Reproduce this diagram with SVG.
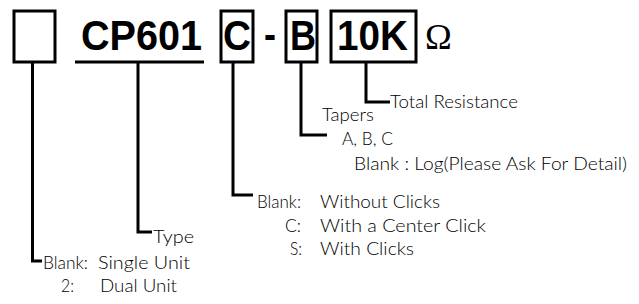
<svg xmlns="http://www.w3.org/2000/svg" width="639" height="304" viewBox="0 0 639 304">
<style>
.box{fill:none;stroke:#000;stroke-width:3}
.ln{fill:none;stroke:#000;stroke-width:3}
.big{font-family:"Liberation Sans",Arial,sans-serif;font-weight:bold;font-size:42px;fill:#000}
.t{font-family:Lato,"Liberation Sans",Arial,sans-serif;font-weight:300;font-size:18px;fill:#000}
.om{font-family:"Liberation Serif","Times New Roman",serif;font-size:36px;fill:#000}
</style>
<rect width="639" height="304" fill="#fff"/>
<g id="unit"><rect class="box" x="14" y="11" width="41" height="51"/></g>
<g id="type"><text class="big" x="81" y="50" textLength="121" lengthAdjust="spacingAndGlyphs">CP601</text><line class="ln" x1="75" y1="62" x2="204" y2="62"/></g>
<g id="click"><rect class="box" x="221" y="11" width="32" height="51"/><text class="big" x="223" y="50" textLength="28" lengthAdjust="spacingAndGlyphs">C</text></g>
<g id="dash"><text class="big" x="264" y="49" textLength="12" lengthAdjust="spacingAndGlyphs">-</text></g>
<g id="taper"><rect class="box" x="286" y="11" width="31" height="51"/><text class="big" x="290" y="50" textLength="26" lengthAdjust="spacingAndGlyphs">B</text></g>
<g id="resist"><rect class="box" x="331" y="11" width="85" height="51"/><text class="big" x="337" y="50" textLength="71" lengthAdjust="spacingAndGlyphs">10K</text></g>
<g id="ohm"><text class="om" x="425" y="49">Ω</text></g>
<g id="connectors">
<polyline class="ln" points="32.5,62 32.5,261 42,261"/>
<polyline class="ln" points="138,62 138,232 152,232"/>
<polyline class="ln" points="233,62 233,195 253,195"/>
<polyline class="ln" points="301,62 301,135 327,135"/>
<polyline class="ln" points="366,62 366,102 390,102"/>
</g>
<g id="labels">
<text class="t" x="390" y="108" textLength="128" lengthAdjust="spacingAndGlyphs">Total Resistance</text>
<text class="t" x="322" y="121" textLength="52" lengthAdjust="spacingAndGlyphs">Tapers</text>
<text class="t" x="342" y="145" textLength="51" lengthAdjust="spacingAndGlyphs">A, B, C</text>
<text class="t" x="354" y="170" textLength="273" lengthAdjust="spacingAndGlyphs">Blank : Log(Please Ask For Detail)</text>
<text class="t" x="257" y="208" textLength="44" lengthAdjust="spacingAndGlyphs">Blank:</text>
<text class="t" x="320" y="208" textLength="120" lengthAdjust="spacingAndGlyphs">Without Clicks</text>
<text class="t" x="285" y="232" textLength="16" lengthAdjust="spacingAndGlyphs">C:</text>
<text class="t" x="320" y="232" textLength="166" lengthAdjust="spacingAndGlyphs">With a Center Click</text>
<text class="t" x="290" y="255" textLength="12" lengthAdjust="spacingAndGlyphs">S:</text>
<text class="t" x="320" y="255" textLength="94" lengthAdjust="spacingAndGlyphs">With Clicks</text>
<text class="t" x="153" y="243" textLength="41" lengthAdjust="spacingAndGlyphs">Type</text>
<text class="t" x="43" y="269" textLength="45" lengthAdjust="spacingAndGlyphs">Blank:</text>
<text class="t" x="98" y="269" textLength="92" lengthAdjust="spacingAndGlyphs">Single Unit</text>
<text class="t" x="61" y="292" textLength="13" lengthAdjust="spacingAndGlyphs">2:</text>
<text class="t" x="100" y="292" textLength="77" lengthAdjust="spacingAndGlyphs">Dual Unit</text>
</g>
</svg>
